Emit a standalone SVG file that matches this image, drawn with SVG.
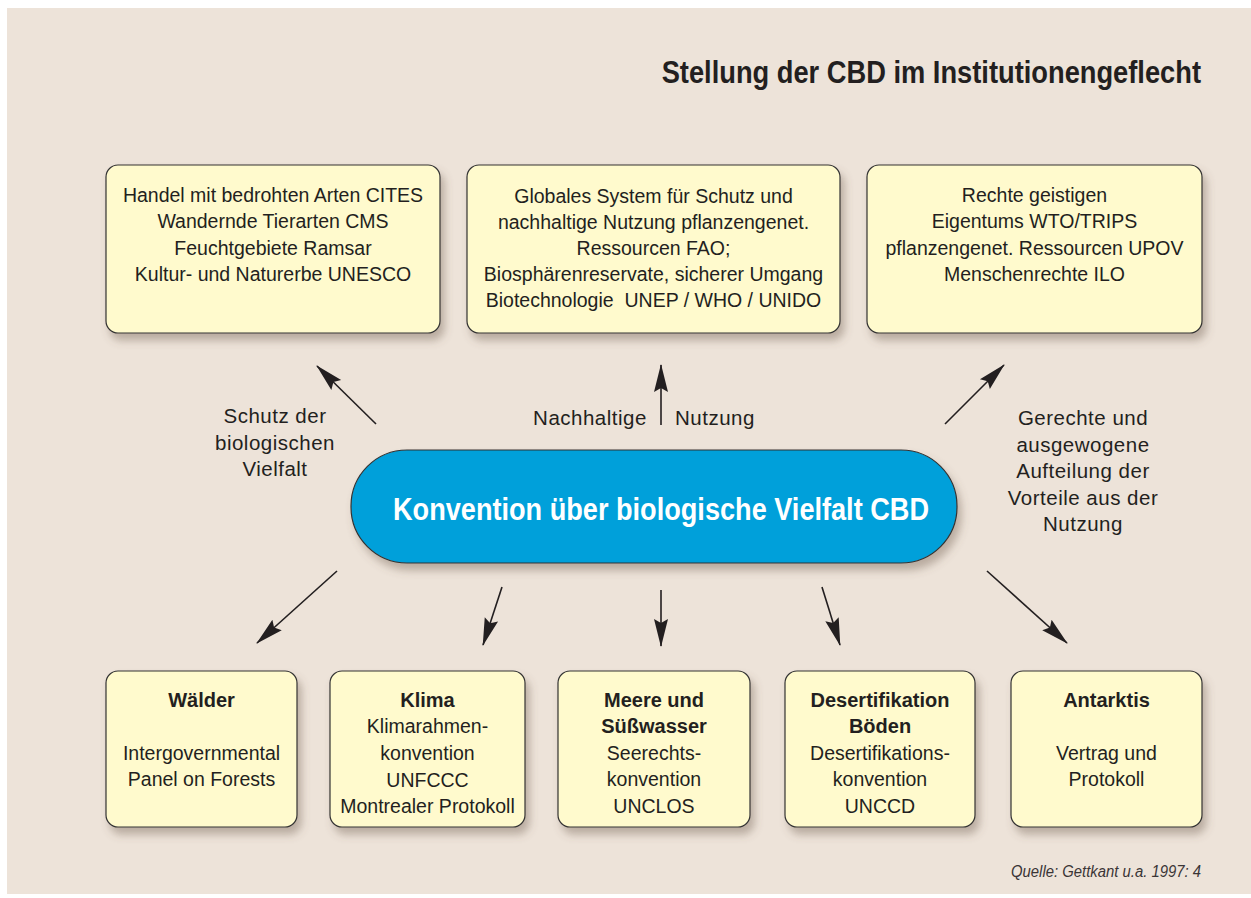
<svg xmlns="http://www.w3.org/2000/svg" width="1251" height="898" viewBox="0 0 1251 898">
<style>
text{font-family:"Liberation Sans",Arial,sans-serif;fill:#231f20}
.t{font-size:19.5px;text-anchor:middle}
.b{font-size:20px;font-weight:bold;text-anchor:middle}
.l{font-size:20.5px;letter-spacing:0.5px;text-anchor:middle}
.box{fill:#fffacd;stroke:#333;stroke-width:1.2}
.ar{stroke:#231f20;stroke-width:1.6;fill:none}
</style>
<defs>
<filter id="sh" x="-10%" y="-10%" width="130%" height="140%">
<feDropShadow dx="4" dy="7" stdDeviation="4" flood-color="#6b5a4a" flood-opacity="0.4"/>
</filter>
<marker id="ah" viewBox="0 0 28 16" refX="27" refY="8" markerWidth="28" markerHeight="16" markerUnits="userSpaceOnUse" orient="auto">
<path d="M0,1 L28,8 L0,15 L4,8 Z" fill="#231f20"/>
</marker>
</defs>
<rect x="0" y="0" width="1251" height="898" fill="#ffffff"/>
<rect x="7" y="8" width="1244" height="886" fill="#ede3d9"/>
<g id="title" transform="translate(1201,83) scale(0.88,1)">
<text x="0" y="0" font-size="31" font-weight="bold" text-anchor="end">Stellung der CBD im Institutionengeflecht</text>
</g>

<g id="connectors">
<line class="ar" x1="376" y1="424" x2="317" y2="366" marker-end="url(#ah)"/>
<line class="ar" x1="661" y1="425" x2="661" y2="365" marker-end="url(#ah)"/>
<line class="ar" x1="945" y1="424" x2="1004" y2="365" marker-end="url(#ah)"/>
<line class="ar" x1="337" y1="571" x2="257" y2="643" marker-end="url(#ah)"/>
<line class="ar" x1="502" y1="587" x2="483" y2="645" marker-end="url(#ah)"/>
<line class="ar" x1="661" y1="590" x2="661" y2="646" marker-end="url(#ah)"/>
<line class="ar" x1="822" y1="587" x2="840" y2="645" marker-end="url(#ah)"/>
<line class="ar" x1="987" y1="571" x2="1067" y2="643" marker-end="url(#ah)"/>
</g>

<g id="label-schutz">
<text class="l" x="275" y="423">Schutz der</text>
<text class="l" x="275" y="450">biologischen</text>
<text class="l" x="275" y="476">Vielfalt</text>
</g>
<g id="label-nutzung">
<text class="l" x="590" y="425">Nachhaltige</text>
<text class="l" x="715" y="425">Nutzung</text>
</g>
<g id="label-aufteilung">
<text class="l" x="1083" y="425">Gerechte und</text>
<text class="l" x="1083" y="451.5">ausgewogene</text>
<text class="l" x="1083" y="478">Aufteilung der</text>
<text class="l" x="1083" y="504.5">Vorteile aus der</text>
<text class="l" x="1083" y="531">Nutzung</text>
</g>

<g id="box-cites">
<rect class="box" x="106" y="165" width="334" height="168" rx="12" filter="url(#sh)"/>
<text class="t" x="273" y="202">Handel mit bedrohten Arten CITES</text>
<text class="t" x="273" y="228">Wandernde Tierarten CMS</text>
<text class="t" x="273" y="255">Feuchtgebiete Ramsar</text>
<text class="t" x="273" y="281">Kultur- und Naturerbe UNESCO</text>
</g>
<g id="box-fao">
<rect class="box" x="467" y="165" width="373" height="168" rx="12" filter="url(#sh)"/>
<text class="t" x="653.5" y="203">Globales System für Schutz und</text>
<text class="t" x="653.5" y="229">nachhaltige Nutzung pflanzengenet.</text>
<text class="t" x="653.5" y="255">Ressourcen FAO;</text>
<text class="t" x="653.5" y="281">Biosphärenreservate, sicherer Umgang</text>
<text class="t" x="653.5" y="307" xml:space="preserve">Biotechnologie  UNEP / WHO / UNIDO</text>
</g>
<g id="box-trips">
<rect class="box" x="867" y="165" width="335" height="168" rx="12" filter="url(#sh)"/>
<text class="t" x="1034.5" y="202">Rechte geistigen</text>
<text class="t" x="1034.5" y="228">Eigentums WTO/TRIPS</text>
<text class="t" x="1034.5" y="255">pflanzengenet. Ressourcen UPOV</text>
<text class="t" x="1034.5" y="281">Menschenrechte ILO</text>
</g>

<g id="cbd">
<rect x="351" y="450" width="606" height="113" rx="56" fill="#00a0da" stroke="#333" stroke-width="1.2" filter="url(#sh)"/>
<text x="661" y="520" font-size="31" font-weight="bold" text-anchor="middle" style="fill:#ffffff" textLength="536" lengthAdjust="spacingAndGlyphs">Konvention über biologische Vielfalt CBD</text>
</g>

<g id="box-waelder">
<rect class="box" x="106" y="671" width="191" height="156" rx="12" filter="url(#sh)"/>
<text class="b" x="201.5" y="707">Wälder</text>
<text class="t" x="201.5" y="760">Intergovernmental</text>
<text class="t" x="201.5" y="786">Panel on Forests</text>
</g>
<g id="box-klima">
<rect class="box" x="330" y="671" width="195" height="156" rx="12" filter="url(#sh)"/>
<text class="b" x="427.5" y="707">Klima</text>
<text class="t" x="427.5" y="733">Klimarahmen-</text>
<text class="t" x="427.5" y="760">konvention</text>
<text class="t" x="427.5" y="787">UNFCCC</text>
<text class="t" x="427.5" y="813">Montrealer Protokoll</text>
</g>
<g id="box-meere">
<rect class="box" x="558" y="671" width="192" height="156" rx="12" filter="url(#sh)"/>
<text class="b" x="654" y="707">Meere und</text>
<text class="b" x="654" y="733">Süßwasser</text>
<text class="t" x="654" y="760">Seerechts-</text>
<text class="t" x="654" y="786">konvention</text>
<text class="t" x="654" y="813">UNCLOS</text>
</g>
<g id="box-desert">
<rect class="box" x="785" y="671" width="190" height="156" rx="12" filter="url(#sh)"/>
<text class="b" x="880" y="707">Desertifikation</text>
<text class="b" x="880" y="733">Böden</text>
<text class="t" x="880" y="760">Desertifikations-</text>
<text class="t" x="880" y="786">konvention</text>
<text class="t" x="880" y="813">UNCCD</text>
</g>
<g id="box-antarktis">
<rect class="box" x="1011" y="671" width="191" height="156" rx="12" filter="url(#sh)"/>
<text class="b" x="1106.5" y="707">Antarktis</text>
<text class="t" x="1106.5" y="760">Vertrag und</text>
<text class="t" x="1106.5" y="786">Protokoll</text>
</g>

<text x="1201" y="877" font-size="16" font-style="italic" text-anchor="end" textLength="190" lengthAdjust="spacingAndGlyphs" style="fill:#3a3536">Quelle: Gettkant u.a. 1997: 4</text>
</svg>
